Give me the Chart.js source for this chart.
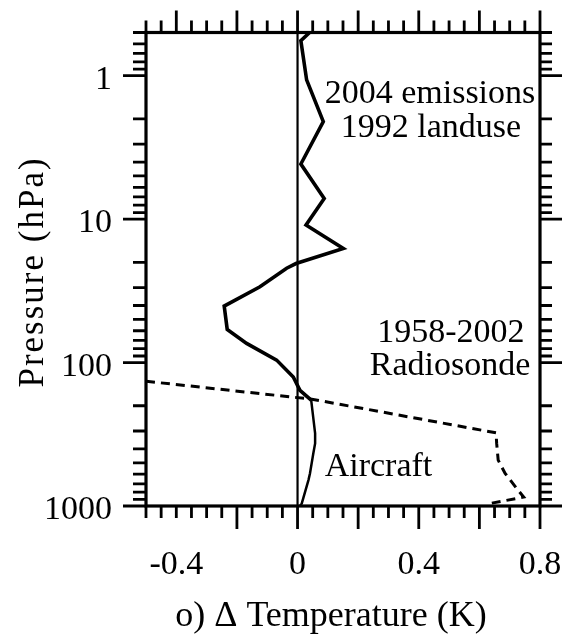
<!DOCTYPE html>
<html>
<head>
<meta charset="utf-8">
<script src="https://cdn.jsdelivr.net/npm/chart.js@4/dist/chart.umd.min.js"></script>
<style>
  html, body { margin: 0; padding: 0; background: #fff; }
  canvas { display: block; }
</style>
</head>
<body>
<canvas id="chart" width="565" height="635"></canvas>
<script>
// Temperature change profile, 2004 emissions / 1992 landuse (stratosphere + upper troposphere)
const upperPressure = [0.5, 0.57, 1.07, 2.09, 4.13, 7.17, 11.0, 16.0, 20.4, 22.0, 29.6, 40.4, 58.7, 73.5, 96.1, 126, 156, 183];
const upperDeltaT   = [0.04, 0.011, 0.030, 0.085, 0.011, 0.088, 0.028, 0.151, -0.005, -0.036, -0.124, -0.242, -0.232, -0.168, -0.069, -0.014, 0.008, 0.045];

// Aircraft contribution, lower troposphere
const aircraftPressure = [183, 312, 366, 430, 593, 660, 960, 1000];
const aircraftDeltaT   = [0.045, 0.058, 0.058, 0.052, 0.041, 0.036, 0.014, 0.008];

// 1958-2002 radiosonde trend
const sondePressure = [135, 180, 309, 366, 479, 593, 754, 867, 955];
const sondeDeltaT   = [-0.5, 0.047, 0.655, 0.657, 0.662, 0.685, 0.723, 0.746, 0.641];

// Axis labels
const tempTickLabels = [-0.4, 0, 0.4, 0.8];
const pressureTickLabels = [1, 10, 100, 1000];

const toPoints = (xs, ys) => xs.map((v, i) => ({ x: v, y: ys[i] }));

const FONT = '"Liberation Serif", "Times New Roman", serif';

const frameAndTicks = {
  id: 'frameAndTicks',
  afterDraw(chart) {
    const { ctx, chartArea: a, scales: { x, y } } = chart;
    ctx.save();
    ctx.strokeStyle = '#000';
    ctx.fillStyle = '#000';
    ctx.lineCap = 'butt';

    // frame
    ctx.lineWidth = 3.2;
    ctx.strokeRect(a.left, a.top, a.right - a.left, a.bottom - a.top);

    ctx.lineWidth = 2.8;
    ctx.beginPath();
    // temperature ticks every 0.05
    for (let i = -10; i <= 16; i++) {
      const px = x.getPixelForValue(i / 20);
      const bottomMajor = i % 4 === 0 && i >= -4;
      const topMajor = i % 4 === 0;
      ctx.moveTo(px, a.bottom);
      ctx.lineTo(px, a.bottom + (bottomMajor ? 23 : 12));
      ctx.moveTo(px, a.top);
      ctx.lineTo(px, a.top - (topMajor ? 22 : 12));
    }
    // pressure ticks, log spaced
    [0.1, 1, 10, 100, 1000].forEach(base => {
      for (let k = 1; k <= 9; k++) {
        const v = k * base;
        if (v < 0.5 || v > 1000) continue;
        const py = y.getPixelForValue(v);
        const major = k === 1;
        ctx.moveTo(a.left, py);
        ctx.lineTo(a.left - (major ? 23 : 13), py);
        ctx.moveTo(a.right, py);
        ctx.lineTo(a.right + (major ? 22 : 12), py);
      }
    });
    ctx.stroke();

    // tick labels
    ctx.font = '34px ' + FONT;
    ctx.textAlign = 'center';
    ctx.textBaseline = 'alphabetic';
    tempTickLabels.forEach(v => {
      ctx.fillText(String(v), x.getPixelForValue(v), 574);
    });
    ctx.textAlign = 'right';
    pressureTickLabels.forEach(v => {
      ctx.fillText(String(v), 112, y.getPixelForValue(v) + 13);
    });

    // axis titles
    ctx.textAlign = 'center';
    ctx.font = '36px ' + FONT;
    ctx.fillText('o) \u0394 Temperature (K)', 331, 626);
    ctx.save();
    ctx.translate(43, 272);
    ctx.rotate(-Math.PI / 2);
    ctx.font = '35px ' + FONT;
    ctx.letterSpacing = '2px';
    ctx.fillText('Pressure (hPa)', 0, 0);
    ctx.restore();

    // curve annotations, anchored in data coordinates
    ctx.font = '34px ' + FONT;
    const notes = [
      ['2004 emissions', 0.437, 1.56],
      ['1992 landuse', 0.44, 2.67],
      ['1958-2002', 0.506, 71.7],
      ['Radiosonde', 0.503, 122],
      ['Aircraft', 0.267, 619]
    ];
    notes.forEach(([t, tx, ty]) => {
      ctx.fillText(t, x.getPixelForValue(tx), y.getPixelForValue(ty));
    });
    ctx.restore();
  }
};

new Chart(document.getElementById('chart'), {
  type: 'scatter',
  data: {
    datasets: [
      {
        data: [{ x: 0, y: 0.5 }, { x: 0, y: 1000 }],
        showLine: true, borderColor: '#000', borderWidth: 2.2, pointRadius: 0
      },
      {
        data: toPoints(upperDeltaT, upperPressure),
        showLine: true, borderColor: '#000', borderWidth: 3.6, pointRadius: 0
      },
      {
        data: toPoints(aircraftDeltaT, aircraftPressure),
        showLine: true, borderColor: '#000', borderWidth: 2.5, pointRadius: 0
      },
      {
        data: toPoints(sondeDeltaT, sondePressure),
        showLine: true, borderColor: '#000', borderWidth: 3, pointRadius: 0,
        borderDash: [9, 6]
      }
    ]
  },
  options: {
    responsive: false,
    devicePixelRatio: 1,
    animation: false,
    layout: { padding: { left: 146, top: 32.5, right: 25, bottom: 129 } },
    plugins: { legend: { display: false }, tooltip: { enabled: false } },
    scales: {
      x: { type: 'linear', min: -0.5, max: 0.8, display: false },
      y: { type: 'logarithmic', min: 0.5, max: 1000, reverse: true, display: false }
    }
  },
  plugins: [frameAndTicks]
});
</script>
</body>
</html>
